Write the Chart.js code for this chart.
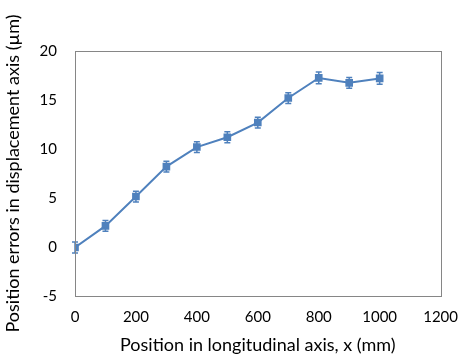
<!DOCTYPE html>
<html>
<head>
<meta charset="utf-8">
<script src="https://cdn.jsdelivr.net/npm/chart.js@4"></script>
<style>
  html, body { margin: 0; padding: 0; background: #fff; }
  #wrap { width: 470px; height: 360px; }
</style>
</head>
<body>
<div id="wrap"><canvas id="chart" width="470" height="360"></canvas></div>
<script>
const positions = [0, 100, 200, 300, 400, 500, 600, 700, 800, 900, 1000];
const errors = [-0.05, 2.15, 5.15, 8.2, 10.2, 11.2, 12.7, 15.2, 17.25, 16.75, 17.2];
const errorBars = [0.55, 0.55, 0.55, 0.55, 0.55, 0.55, 0.55, 0.55, 0.6, 0.55, 0.6];
const xTicks = [0, 200, 400, 600, 800, 1000, 1200];
const yTicks = [-5, 0, 5, 10, 15, 20];

const blue = '#4F81BD';
const fontFamily = 'Lato, "Open Sans", sans-serif';

// error bars + box around plot area
const extras = {
    id: 'extras',
    afterDatasetsDraw(chart) {
        const ctx = chart.ctx;
        const xs = chart.scales.x;
        const ys = chart.scales.y;
        ctx.save();
        ctx.strokeStyle = blue;
        ctx.lineWidth = 1.5;
        positions.forEach((p, i) => {
            const px = xs.getPixelForValue(p);
            const top = ys.getPixelForValue(errors[i] + errorBars[i]);
            const bot = ys.getPixelForValue(errors[i] - errorBars[i]);
            ctx.beginPath();
            ctx.moveTo(px, top); ctx.lineTo(px, bot);
            ctx.moveTo(px - 3, top); ctx.lineTo(px + 3, top);
            ctx.moveTo(px - 3, bot); ctx.lineTo(px + 3, bot);
            ctx.stroke();
        });
        const a = chart.chartArea;
        ctx.strokeStyle = '#868686';
        ctx.lineWidth = 1;
        ctx.strokeRect(Math.round(a.left) + 0.5, Math.round(a.top) + 0.5,
            Math.round(a.right - a.left), Math.round(a.bottom - a.top));
        ctx.restore();
    }
};

new Chart(document.getElementById('chart'), {
    type: 'line',
    data: {
        datasets: [{
            data: positions.map((p, i) => ({ x: p, y: errors[i] })),
            borderColor: blue,
            backgroundColor: blue,
            borderWidth: 2,
            pointStyle: 'rect',
            pointRadius: 4,
            pointHoverRadius: 4,
            tension: 0
        }]
    },
    options: {
        responsive: false,
        animation: false,
        layout: { padding: { top: 51, right: 21, left: 0, bottom: 0 } },
        plugins: { legend: { display: false }, tooltip: { enabled: false } },
        scales: {
            x: {
                type: 'linear',
                min: 0, max: 1200,
                afterBuildTicks: s => { s.ticks = xTicks.map(v => ({ value: v })); },
                afterFit: s => { s.height = 64; },
                grid: { display: false, drawTicks: false },
                border: { display: false },
                ticks: {
                    padding: 12, color: '#000',
                    font: { family: fontFamily, size: 15 },
                    callback: v => String(v)
                },
                title: {
                    display: true,
                    text: 'Position in longitudinal axis, x (mm)',
                    color: '#000',
                    font: { family: fontFamily, size: 18 },
                    padding: { top: 3 }
                }
            },
            y: {
                min: -5, max: 20,
                afterBuildTicks: s => { s.ticks = yTicks.map(v => ({ value: v })); },
                afterFit: s => { s.width = 75; },
                grid: { display: false, drawTicks: false },
                border: { display: false },
                ticks: { padding: 18, color: '#000', font: { family: fontFamily, size: 15 } },
                title: {
                    display: true,
                    text: 'Position errors in displacement axis (\u00b5m)',
                    color: '#000',
                    font: { family: fontFamily, size: 18 },
                    padding: { bottom: 0, top: 2 }
                }
            }
        }
    },
    plugins: [extras]
});
</script>
</body>
</html>
